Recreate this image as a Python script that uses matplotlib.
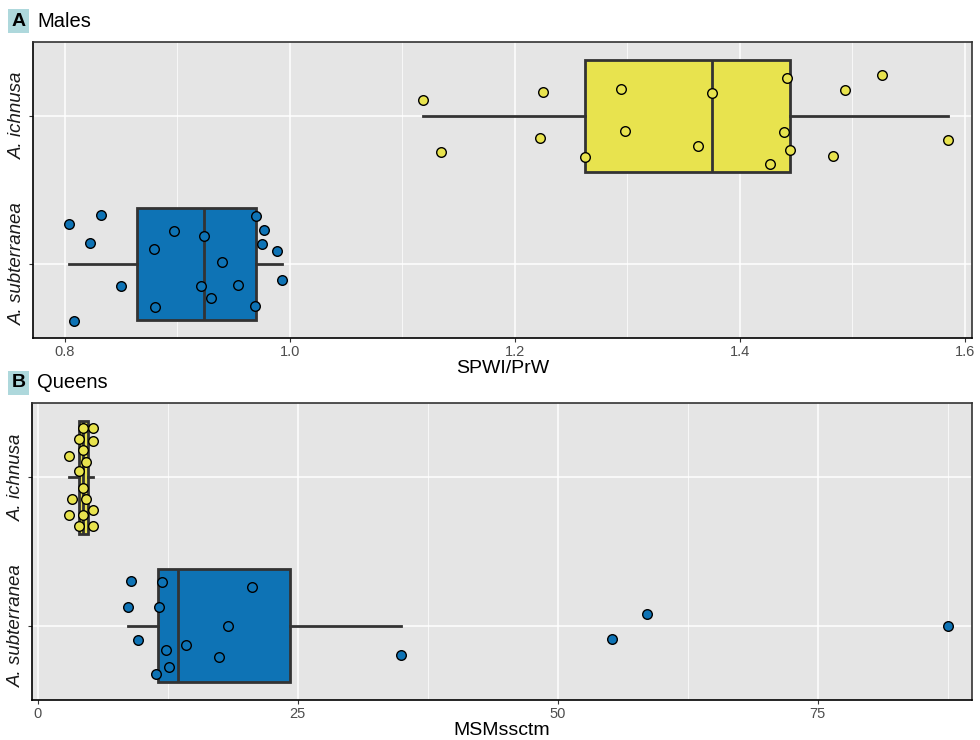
import numpy as np
import matplotlib.pyplot as plt
from matplotlib.ticker import MultipleLocator

plt.rcParams['font.family'] = ['Liberation Sans', 'DejaVu Sans']

species = ["A. subterranea", "A. ichnusa"]
colors = ["#0E73B5", "#E8E34E"]

# males: SPWI/PrW values and vertical jitter
males_sub = [0.8036, 0.832, 0.8225, 0.808, 0.8495, 0.8791, 0.8797, 0.8966, 0.9238, 0.9206,
             0.9298, 0.9399, 0.9535, 0.9701, 0.9772, 0.9748, 0.9887, 0.9932, 0.9692]
males_sub_jit = [0.270, 0.333, 0.144, -0.387, -0.149, 0.104, -0.288, 0.221, 0.189, -0.149,
                 -0.230, 0.013, -0.140, 0.327, 0.230, 0.133, 0.088, -0.108, -0.286]
males_ich = [1.1185, 1.1347, 1.2248, 1.2226, 1.2623, 1.2940, 1.2979, 1.3628, 1.3748, 1.4421,
             1.4391, 1.4446, 1.4271, 1.4934, 1.5267, 1.4824, 1.5849]
males_ich_jit = [0.104, -0.241, 0.158, -0.149, -0.275, 0.180, -0.104, -0.203, 0.153, 0.257,
                 -0.110, -0.232, -0.327, 0.171, 0.273, -0.270, -0.164]

# queens: MSMssctm
queens_sub = [8.97, 8.68, 9.68, 11.35, 11.98, 11.63, 12.34, 12.66, 14.29, 17.47, 18.30, 20.64,
              34.93, 55.25, 58.6, 87.5]
queens_sub_jit = [0.304, 0.130, -0.098, -0.323, 0.297, 0.127, -0.163, -0.279, -0.127, -0.212,
                  -0.002, 0.259, -0.196, -0.089, 0.080, -0.004]
queens_ich = [4.32, 5.35, 3.97, 5.35, 3.01, 4.32, 4.67, 3.97, 4.32, 3.33, 4.67, 3.01, 4.32,
              5.35, 3.97, 5.35]
queens_ich_jit = [0.332, 0.332, 0.261, 0.243, 0.145, 0.185, 0.105, 0.045, -0.071, -0.143,
                  -0.145, -0.252, -0.252, -0.221, -0.326, -0.326]

edge = "#333333"


def draw_panel(ax, groups, jitters, xlim, major, minor, xlabel):
    ax.set_facecolor("#E5E5E5")
    ax.set_axisbelow(True)
    ax.xaxis.set_major_locator(MultipleLocator(major))
    ax.xaxis.set_minor_locator(MultipleLocator(minor))
    ax.grid(which="major", color="white", lw=1.1)
    ax.grid(which="minor", axis="x", color="white", lw=0.5)
    for i, (vals, jit, col) in enumerate(zip(groups, jitters, colors)):
        pos = i + 1
        ax.boxplot(vals, positions=[pos], orientation="horizontal", widths=0.76,
                   patch_artist=True, showcaps=False, showfliers=False, whis=1.5,
                   boxprops=dict(facecolor=col, edgecolor=edge, lw=2),
                   medianprops=dict(color=edge, lw=2),
                   whiskerprops=dict(color=edge, lw=2))
        ax.scatter(vals, pos + np.array(jit), s=48, color=col, edgecolors="black",
                   linewidths=1, zorder=3)
    ax.set_xlim(*xlim)
    ax.set_ylim(0.5, 2.5)
    ax.set_yticks([1, 2])
    ax.set_yticklabels(species, rotation=90, va="center", style="italic",
                       fontsize=13.5, color="#1A1A1A")
    ax.tick_params(axis="x", which="major", labelsize=10.5, labelcolor="#4D4D4D",
                   color="#333333", length=3, pad=2)
    ax.tick_params(axis="x", which="minor", length=0)
    ax.tick_params(axis="y", color="#333333", length=3, pad=2)
    ax.set_xlabel(xlabel, fontsize=14, labelpad=1)
    for s in ax.spines.values():
        s.set_color("#333333")
        s.set_linewidth(1.2)
    ax.spines["bottom"].set_color("black")
    ax.spines["left"].set_color("black")


fig = plt.figure(figsize=(9.8, 7.4), dpi=100)
axA = fig.add_axes([0.0337, 0.5432, 0.958, 0.4004])
axB = fig.add_axes([0.0330, 0.0541, 0.9585, 0.4009])

draw_panel(axA, [males_sub, males_ich], [males_sub_jit, males_ich_jit],
           (0.7716, 1.6062), 0.2, 0.1, "SPWI/PrW")
axA.xaxis.set_major_formatter(plt.FuncFormatter(lambda v, p: f"{v:.1f}"))
draw_panel(axB, [queens_sub, queens_ich], [queens_sub_jit, queens_ich_jit],
           (-0.52, 89.8), 25, 12.5, "MSMssctm")

for y, letter, title in [(0.9715, "A", "Males"), (0.4825, "B", "Queens")]:
    fig.text(0.0115, y, letter, fontsize=14, fontweight="bold", va="center", ha="left",
             bbox=dict(facecolor="#AED8DC", edgecolor="none", pad=2.5))
    fig.text(0.038, y, title, fontsize=14.5, va="center", ha="left")

fig.savefig("out.png", dpi=100)
